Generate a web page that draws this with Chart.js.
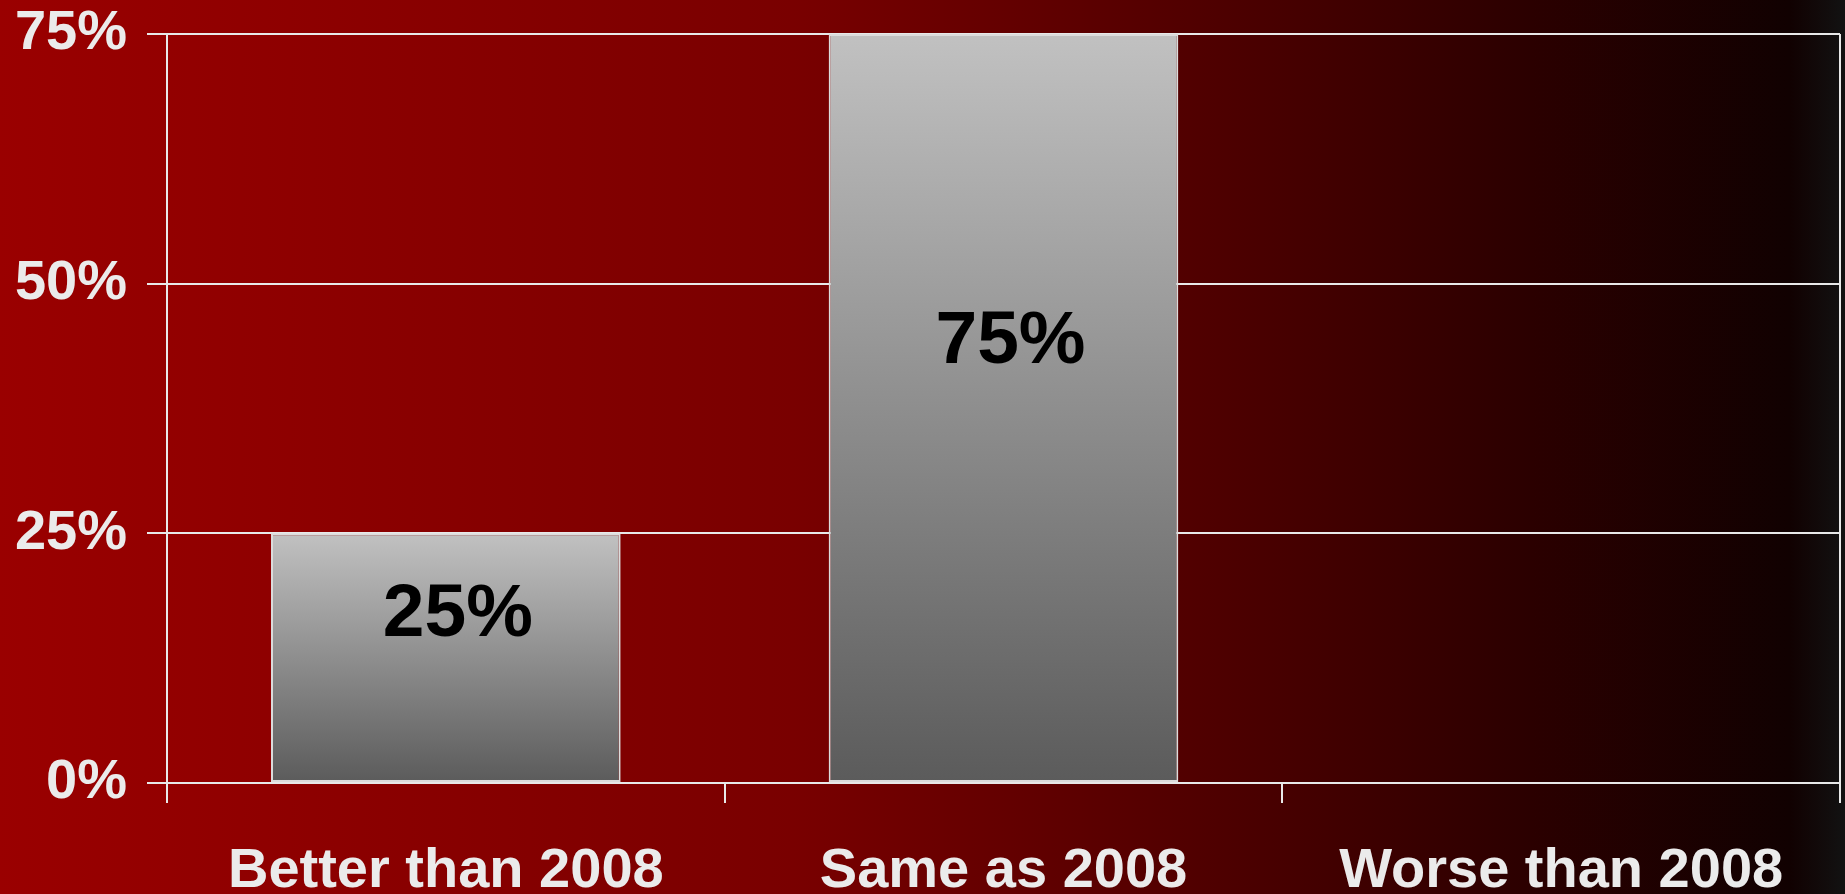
<!DOCTYPE html>
<html>
<head>
<meta charset="utf-8">
<script src="https://cdn.jsdelivr.net/npm/chart.js@4"></script>
<style>
  html, body { margin: 0; padding: 0; background: #990000; overflow: hidden; }
  #wrap { width: 1845px; height: 894px; }
</style>
</head>
<body>
<div id="wrap"><canvas id="myChartBar" width="1845" height="894"></canvas></div>
<script>
const categories = ['Better than 2008', 'Same as 2008', 'Worse than 2008'];
const shares = [25, 75, 0];
const yTicks = [0, 25, 50, 75];

const LINE = '#e8e8e8';
const FONT = '"Liberation Sans", Arial, sans-serif';

// red-to-black slide background
const backdrop = {
    id: 'backdrop',
    beforeDraw(chart) {
        const {ctx, width, height} = chart;
        const g = ctx.createLinearGradient(0, 0, width, 0);
        g.addColorStop(0, '#9a0000');
        g.addColorStop(0.43, '#790000');
        g.addColorStop(0.65, '#500000');
        g.addColorStop(0.83, '#2b0000');
        g.addColorStop(0.97, '#110101');
        g.addColorStop(1, '#121212');
        ctx.save();
        ctx.fillStyle = g;
        ctx.fillRect(0, 0, width, height);
        ctx.restore();
    }
};

// value labels inside the bars
const valueLabels = {
    id: 'valueLabels',
    afterDatasetsDraw(chart, args, opts) {
        const {ctx} = chart;
        const meta = chart.getDatasetMeta(0);
        ctx.save();
        ctx.fillStyle = '#000';
        ctx.font = 'bold 75px ' + FONT;
        ctx.textAlign = 'center';
        ctx.textBaseline = 'middle';
        meta.data.forEach((bar, i) => {
            const v = chart.data.datasets[0].data[i];
            if (!v) return;
            const f = opts.fractions[i] || 0.3;
            const dx = opts.shifts[i] || 0;
            ctx.fillText(v + '%', bar.x + dx, bar.y + f * (bar.base - bar.y));
        });
        ctx.restore();
    }
};

// light-to-dark grey fill, running from the top of each bar to its base
function barGradient(c) {
    const chart = c.chart;
    const y = chart.scales.y;
    if (!chart.chartArea || c.type !== 'data' || !y) return '#8f8f8f';
    const top = y.getPixelForValue(c.raw);
    const base = y.getPixelForValue(0);
    if (!isFinite(top) || !isFinite(base) || top === base) return '#8f8f8f';
    const g = chart.ctx.createLinearGradient(0, top, 0, base);
    g.addColorStop(0, '#c1c1c1');
    g.addColorStop(1, '#5b5b5b');
    return g;
}

const data1 = {
    labels: categories,
    datasets: [{
        data: shares,
        backgroundColor: barGradient,
        borderColor: '#dcdcdc',
        borderWidth: 2,
        borderSkipped: false,
        categoryPercentage: 1,
        barPercentage: 0.627
    }]
};

const config1 = {
    type: 'bar',
    data: data1,
    plugins: [backdrop, valueLabels],
    options: {
        responsive: false,
        animation: false,
        layout: { padding: { left: 15, right: 5, top: 0, bottom: 0 } },
        plugins: {
            legend: { display: false },
            tooltip: { enabled: false },
            valueLabels: { fractions: [0.33, 0.412], shifts: [12, 7] }
        },
        scales: {
            x: {
                afterFit: (s) => { s.height = 111; },
                grid: {
                    offset: true,
                    drawOnChartArea: true,
                    color: (c) => (c.index === 0 || c.index === undefined) ? LINE : 'rgba(0,0,0,0)',
                    tickColor: LINE,
                    lineWidth: 2,
                    tickLength: 20
                },
                border: { color: LINE, width: 2 },
                ticks: {
                    color: '#ebebeb',
                    padding: 35,
                    maxRotation: 0,
                    font: { family: FONT, size: 56, weight: 'bold' }
                }
            },
            y: {
                min: 0,
                max: 75,
                afterFit: (s) => { s.width = 152; s.paddingTop = 34; s.paddingBottom = 0; },
                afterBuildTicks: (axis) => { axis.ticks = yTicks.map(v => ({value: v})); },
                grid: {
                    color: LINE,
                    lineWidth: 2,
                    tickLength: 20
                },
                border: { color: LINE, width: 2 },
                ticks: {
                    color: '#ebebeb',
                    padding: 20,
                    callback: (v) => v + '%',
                    font: { family: FONT, size: 56, weight: 'bold' }
                }
            }
        }
    }
};

const ctx1 = document.getElementById('myChartBar').getContext('2d');
const myChart1 = new Chart(ctx1, config1);
</script>
</body>
</html>
